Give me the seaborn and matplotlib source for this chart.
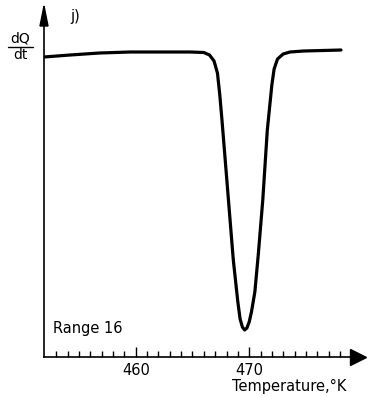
"""
DSC-style trace: dQ/dt against temperature, Range 16.
"""

import matplotlib
matplotlib.use("Agg")
import matplotlib.pyplot as plt
from matplotlib.lines import Line2D
from matplotlib.patches import Polygon
import pandas as pd
import seaborn as sns

# Values (temperature in K, dQ/dt in arbitrary units)
temperature = [451.9, 454.2, 456.8, 459.5, 462.1, 464.8, 466.0, 466.5, 466.9,
               467.2, 467.4, 467.6, 468.1, 468.6, 469.0, 469.2, 469.4, 469.6,
               469.8, 470.0, 470.2, 470.5, 470.8, 471.2, 471.6, 472.0, 472.2,
               472.5, 473.0, 473.6, 474.8, 476.5, 478.1]
dq_dt = [30.0, 30.2, 30.4, 30.5, 30.5, 30.5, 30.45, 30.2, 29.6,
         28.4, 26.3, 23.7, 16.7, 9.7, 5.5, 3.8, 3.0, 2.7,
         2.9, 3.5, 4.5, 6.5, 10.2, 15.7, 22.7, 27.2, 28.8,
         29.8, 30.3, 30.5, 30.6, 30.65, 30.7]

major_ticks = [460, 470]
major_labels = ["460", "470"]
minor_ticks = [t for t in range(453, 479) if t not in major_ticks]

sns.set_style("white")
plt.rcParams["font.family"] = ["DejaVu Sans"]
plt.rcParams["text.color"] = "black"
plt.rcParams["xtick.color"] = "black"

df = pd.DataFrame({"T": temperature, "dQdt": dq_dt})

W, H = 370, 396
fig = plt.figure(figsize=(W / 100, H / 100), dpi=100)
ax = fig.add_axes([44 / W, 1 - 357 / H, (358 - 44) / W, (357 - 7) / H])

sns.lineplot(data=df, x="T", y="dQdt", ax=ax, color="black",
             linewidth=2.3, sort=False)

ax.set_xlim(451.9, 479.6)
ax.set_ylim(0, 35)

# Only left and bottom axis lines
for side in ["top", "right"]:
    ax.spines[side].set_visible(False)
for side in ["left", "bottom"]:
    ax.spines[side].set_linewidth(1.2)
    ax.spines[side].set_color("black")

# Arrow heads on both axes
ax.plot(1, 0, marker=">", markersize=11, color="black",
        transform=ax.transAxes, clip_on=False)
fig.add_artist(Polygon([(40 / W, 1 - 26 / H), (48 / W, 1 - 26 / H),
                        (44 / W, 1 - 6 / H)], closed=True,
                       transform=fig.transFigure, color="black"))

# Ticks pointing into the plot
ax.set_yticks([])
ax.set_xticks(major_ticks)
ax.set_xticklabels(major_labels, fontsize=10.5)
ax.set_xticks(minor_ticks, minor=True)
ax.tick_params(axis="x", which="both", bottom=True, direction="in",
               color="black", width=1)
ax.tick_params(axis="x", which="major", length=7.5, pad=4)
ax.tick_params(axis="x", which="minor", length=4.5)
ax.set_xlabel("")
ax.set_ylabel("")

# Labels
fig.text(75 / W, 1 - 17 / H, "j)", fontsize=10.5, ha="center", va="center")
fig.text(20 / W, 1 - 39 / H, "dQ", fontsize=10, ha="center", va="center")
fig.add_artist(Line2D([8 / W, 33 / W], [1 - 46.5 / H, 1 - 46.5 / H],
                      color="black", linewidth=1))
fig.text(20 / W, 1 - 55 / H, "dt", fontsize=10, ha="center", va="center")
fig.text(53 / W, 1 - 329 / H, "Range 16", fontsize=10.5, ha="left",
         va="center")
fig.text(232 / W, 1 - 386 / H, "Temperature,°K", fontsize=10.5, ha="left",
         va="center")

fig.savefig("out.png", dpi=100)
plt.close(fig)
